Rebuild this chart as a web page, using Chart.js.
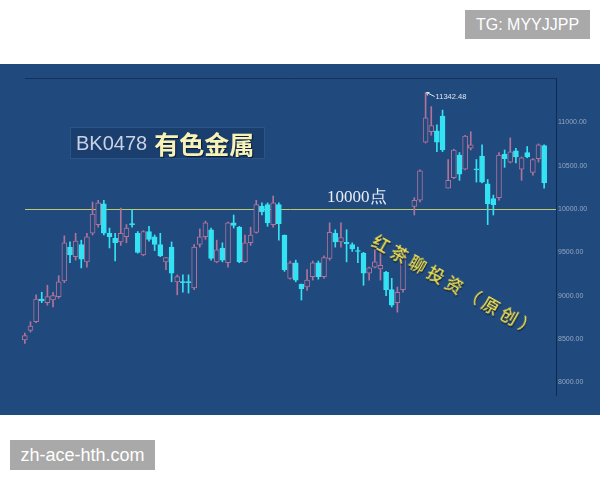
<!DOCTYPE html>
<html>
<head>
<meta charset="utf-8">
<script src="https://cdn.jsdelivr.net/npm/chart.js@4.4.0/dist/chart.umd.min.js"></script>
<style>
  body { margin: 0; width: 600px; height: 480px; background: #fff; position: relative; overflow: hidden;
         font-family: "Liberation Sans", Arial, sans-serif; }
  #panel { position: absolute; left: 0; top: 64px; width: 600px; height: 351px; background: #20497d; }
  #panel canvas { position: absolute; left: 0; top: 0; }
  .tag { position: absolute; background: #a9a9a9; color: #fff; text-align: center; }
  #tg { left: 465px; top: 10px; width: 125px; height: 29px; line-height: 29px; font-size: 16px; }
  #site { left: 10px; top: 440px; width: 145px; height: 30px; line-height: 30px; font-size: 18px; }
  #title { position: absolute; left: 70px; top: 127px; width: 193px; height: 30px; background: #1a3e6d;
           border: 1px solid #2c5487; display: flex; align-items: center; white-space: nowrap; }
  #title .code { font-size: 20px; color: #c9d2e2; margin-left: 5px; }
  #title .name { font-family: "Noto Sans CJK SC", sans-serif; font-weight: 700; font-size: 25px; color: #f6f2b8;
                 margin-left: 7px; text-shadow: 1px 1px 1px #0b1c36; }
  #level { position: absolute; left: 327px; top: 185px; font-family: "Liberation Serif", serif; font-size: 17px; color: #e8edf5; }
  #author { position: absolute; left: 374px; top: 229px; font-family: "Noto Sans CJK SC", sans-serif; font-weight: 500;
            font-size: 17px; line-height: 20px; letter-spacing: 4px; color: #f0e255; white-space: nowrap;
            transform: rotate(29.5deg); transform-origin: 0 50%; text-shadow: 1px 1px 1px #0a1a30; }
</style>
</head>
<body>
<div class="tag" id="tg">TG: MYYJJPP</div>
<div id="panel"><canvas id="kline" width="600" height="351"></canvas></div>
<div id="title"><span class="code">BK0478</span><span class="name">有色金属</span></div>
<div id="level">10000点</div>
<div id="author">红茶聊投资（原创）</div>
<div class="tag" id="site">zh-ace-hth.com</div>

<script>
// daily OHLC of the index (one missing day left as null)
const opens = [
  8490, 8600, 8700, 8960, 8920, 8950, 8990, 9170, 9560, 9450,
  9590, 9390, 9720, 9820, 10060, 9720, 9660, 9620, 9680, 9830,
  9720, 9470, 9740, 9680, 9590, 9390, 9560, 9160, 9160, 9160,
  9090, 9590, 9680, 9760, 9390, 9550, 9380, 9840, 9790, 9390,
  9610, 9730, 10030, 10050, 9820, 10050, 9700, 9200, 9380, 9130,
  9100, 9220, 9380, 9220, 9430, 9720, 9620, 9615, 9590, 9520,
  9490, 9260, 9330, 9310, 9270, 9070, 8920, 9070, null, 10030,
  10100, 10770, 10890, 10900, 11070, 10240, 10360, 10620, 10460, 10700,
  10455, 10610, 10290, 10120, 10130, 10630, 10540, 10670, 10460, 10650,
  10420, 10580, 10730
];
const highs = [
  8570, 8700, 9010, 9040, 9120, 9040, 9230, 9690, 9620, 9720,
  9640, 9720, 10080, 10100, 10100, 9780, 9720, 10010, 9820, 9990,
  9740, 9750, 9800, 9700, 9720, 9440, 9620, 9240, 9240, 9240,
  9590, 9770, 9860, 9780, 9640, 9610, 9850, 9930, 9800, 9700,
  9790, 10100, 10070, 10070, 10150, 10070, 9700, 9400, 9410, 9135,
  9300, 9400, 9400, 9460, 9840, 9760, 9840, 9760, 9610, 9560,
  9500, 9330, 9530, 9530, 9280, 9200, 9100, 9550, null, 10130,
  10450, 11342.48, 11180, 10970, 11140, 10570, 10690, 10650, 10850, 10890,
  10570, 10740, 10340, 10160, 10650, 10680, 10820, 10700, 10600, 10720,
  10580, 10750, 10740
];
const lows = [
  8450, 8580, 8690, 8920, 8890, 8870, 8970, 9150, 9380, 9410,
  9320, 9330, 9700, 9790, 9700, 9550, 9400, 9580, 9610, 9790,
  9490, 9460, 9630, 9520, 9450, 9300, 9160, 9010, 9040, 9030,
  9070, 9560, 9650, 9410, 9380, 9390, 9330, 9780, 9380, 9380,
  9580, 9720, 9930, 9800, 9790, 9640, 9280, 9190, 9160, 8950,
  9060, 9180, 9190, 9200, 9410, 9560, 9560, 9390, 9510, 9380,
  9120, 9180, 9320, 9180, 9000, 8870, 8810, 9040, null, 9930,
  10080, 10760, 10850, 10660, 10660, 10240, 10350, 10330, 10450, 10680,
  10310, 10300, 9820, 9930, 10100, 10480, 10530, 10530, 10330, 10590,
  10390, 10540, 10240
];
const closes = [
  8540, 8650, 8960, 8940, 8990, 9000, 9160, 9610, 9470, 9630,
  9420, 9680, 9940, 10070, 9720, 9680, 9610, 9720, 9780, 9820,
  9500, 9740, 9650, 9590, 9460, 9440, 9260, 9220, 9150, 9150,
  9560, 9680, 9840, 9430, 9530, 9410, 9840, 9810, 9390, 9610,
  9700, 10050, 9970, 9840, 10070, 9830, 9300, 9380, 9180, 9080,
  9180, 9380, 9220, 9440, 9730, 9620, 9670, 9600, 9540, 9510,
  9260, 9320, 9390, 9350, 9070, 8890, 9040, 9530, null, 10100,
  10440, 11050, 10960, 10770, 10680, 10330, 10680, 10400, 10840, 10740,
  10450, 10310, 10060, 10050, 10620, 10580, 10660, 10600, 10590, 10600,
  10570, 10740, 10300
];
const yTicks = [8000, 8500, 9000, 9500, 10000, 10500, 11000];
const refLevel = 10000;

const panelBlue = '#20497d';
const upColor = '#b0739a';
const downColor = '#33e3f3';

const isUp = (i) => closes[i] >= opens[i];

// floating bars: [open, close] for bodies, [low, high] for wicks
const bodyData = [];
const wickData = [];
opens.forEach((o, i) => {
  if (o == null) return;
  bodyData.push({ x: i, y: [o, closes[i]] });
  wickData.push({ x: i, y: [lows[i], highs[i]] });
});

/**
 * Frame line, the 10000 level line and the label at the highest high
 */
const marksPlugin = {
  id: 'marks',
  beforeDatasetsDraw(chart) {
    const { ctx, chartArea, scales: { y } } = chart;
    ctx.save();
    ctx.lineWidth = 1;
    ctx.strokeStyle = '#12325b';
    ctx.beginPath();
    ctx.moveTo(chartArea.left + 3, chartArea.top + 0.5);
    ctx.lineTo(chartArea.right, chartArea.top + 0.5);
    ctx.stroke();

    const ly = Math.round(y.getPixelForValue(refLevel)) + 0.5;
    ctx.strokeStyle = '#bfc96a';
    ctx.beginPath();
    ctx.moveTo(chartArea.left + 3, ly);
    ctx.lineTo(chartArea.right, ly);
    ctx.stroke();
    ctx.restore();
  },
  afterDatasetsDraw(chart) {
    const { ctx, scales: { x, y } } = chart;
    let top = 0;
    highs.forEach((h, i) => { if (h != null && h > highs[top]) top = i; });
    const px = x.getPixelForValue(top);
    const py = y.getPixelForValue(highs[top]);
    ctx.save();
    ctx.strokeStyle = '#dfe6f0';
    ctx.lineWidth = 1;
    ctx.beginPath();
    ctx.moveTo(px + 1, py);
    ctx.lineTo(px + 9, py + 4);
    ctx.moveTo(px + 1, py);
    ctx.lineTo(px + 4, py);
    ctx.moveTo(px + 1, py);
    ctx.lineTo(px + 2, py + 3);
    ctx.stroke();
    ctx.fillStyle = '#dfe6f0';
    ctx.font = '7.5px "Liberation Sans"';
    ctx.textBaseline = 'middle';
    ctx.fillText(highs[top].toFixed(2), px + 10, py + 4);
    ctx.restore();
  }
};

function initializeChart() {
  const candleColor = (ctx) => (isUp(ctx.raw.x) ? upColor : downColor);

  new Chart(document.getElementById('kline'), {
    type: 'bar',
    data: {
      datasets: [
        {
          data: bodyData,
          backgroundColor: (ctx) => (isUp(ctx.raw.x) ? panelBlue : downColor),
          borderColor: candleColor,
          borderWidth: 1,
          borderSkipped: false,
          barThickness: 5,
          minBarLength: 1,
          grouped: false,
          order: 1
        },
        {
          data: wickData,
          backgroundColor: candleColor,
          borderWidth: 0,
          barThickness: 1,
          minBarLength: 1,
          grouped: false,
          order: 2
        }
      ]
    },
    options: {
      responsive: false,
      animation: false,
      events: [],
      layout: { padding: { left: 22, top: 14, bottom: 20, right: 0 } },
      plugins: { legend: { display: false }, tooltip: { enabled: false } },
      scales: {
        x: { type: 'linear', min: -0.5, max: 94.1, offset: false, display: false },
        y: {
          position: 'right',
          min: 7855,
          max: 11510,
          grid: { display: false, drawTicks: false },
          border: { display: true, color: '#0f2a50' },
          ticks: {
            color: '#94a7c2',
            padding: 2,
            font: { family: 'Liberation Sans', size: 7 },
            callback: (v) => Number(v).toFixed(2)
          },
          afterBuildTicks: (s) => { s.ticks = yTicks.map((v) => ({ value: v })); },
          afterFit: (s) => { s.width = 44; }
        }
      }
    },
    plugins: [marksPlugin]
  });
}

initializeChart();
</script>
</body>
</html>
